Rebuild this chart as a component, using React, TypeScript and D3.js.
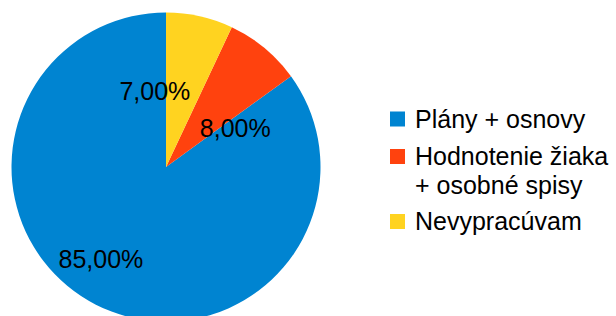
import React, { useEffect, useRef } from "react";
import * as d3 from "d3";

const categories = ["Plány + osnovy", "Hodnotenie žiaka + osobné spisy", "Nevypracúvam"];
const legendLines = [["Plány + osnovy"], ["Hodnotenie žiaka", "+ osobné spisy"], ["Nevypracúvam"]];
const values = [85, 8, 7];
const labels = ["85,00%", "8,00%", "7,00%"];
const colors = ["#0084d1", "#ff420e", "#ffd320"];

// small nudges so labels sit where LibreOffice put them
const labelNudge = [
  [-30, 23],
  [20, 21],
  [-28, 0],
];

const W = 616;
const H = 316;

export default function App() {
  const svgRef = useRef<SVGSVGElement>(null);

  useEffect(() => {
    const svg = d3.select(svgRef.current);
    svg.selectAll("*").remove();

    const cx = 166;
    const cy = 167;
    const radius = 154.5;
    const font = "'Liberation Sans', Arial, sans-serif";
    const fontSize = "25px";

    // counterclockwise from 12 o'clock, like the original
    const pie = d3
      .pie<number>()
      .sort(null)
      .startAngle(0)
      .endAngle(-2 * Math.PI);
    const arcs = pie(values);
    const arc = d3.arc<d3.PieArcDatum<number>>().innerRadius(0).outerRadius(radius);

    const g = svg.append("g").attr("transform", `translate(${cx},${cy})`);

    g.selectAll("path.slice")
      .data(arcs)
      .enter()
      .append("path")
      .attr("class", "slice")
      .attr("d", arc)
      .attr("fill", (d, i) => colors[i]);

    g.selectAll("text.val")
      .data(arcs)
      .enter()
      .append("text")
      .attr("class", "val")
      .attr("x", (d, i) => arc.centroid(d)[0] + labelNudge[i][0])
      .attr("y", (d, i) => arc.centroid(d)[1] + labelNudge[i][1])
      .attr("dy", "0.35em")
      .attr("text-anchor", "middle")
      .style("font-family", font)
      .style("font-size", fontSize)
      .attr("fill", "#000")
      .text((d, i) => labels[i]);

    // Legend
    const legend = svg.append("g").attr("transform", "translate(390, 0)");
    const rowY = [127.5, 165, 230];
    categories.forEach((name, i) => {
      const row = legend.append("g").attr("transform", `translate(0, ${rowY[i]})`);
      row
        .append("rect")
        .attr("x", 0)
        .attr("y", -16)
        .attr("width", 15)
        .attr("height", 15)
        .attr("fill", colors[i]);
      legendLines[i].forEach((line, j) => {
        row
          .append("text")
          .attr("x", 25)
          .attr("y", j * 29)
          .style("font-family", font)
          .style("font-size", fontSize)
          .attr("fill", "#000")
          .text(line);
      });
    });
  }, []);

  return (
    <svg
      ref={svgRef}
      width={W}
      height={H}
      style={{ position: "absolute", left: 0, top: 0, background: "#fff" }}
    />
  );
}
